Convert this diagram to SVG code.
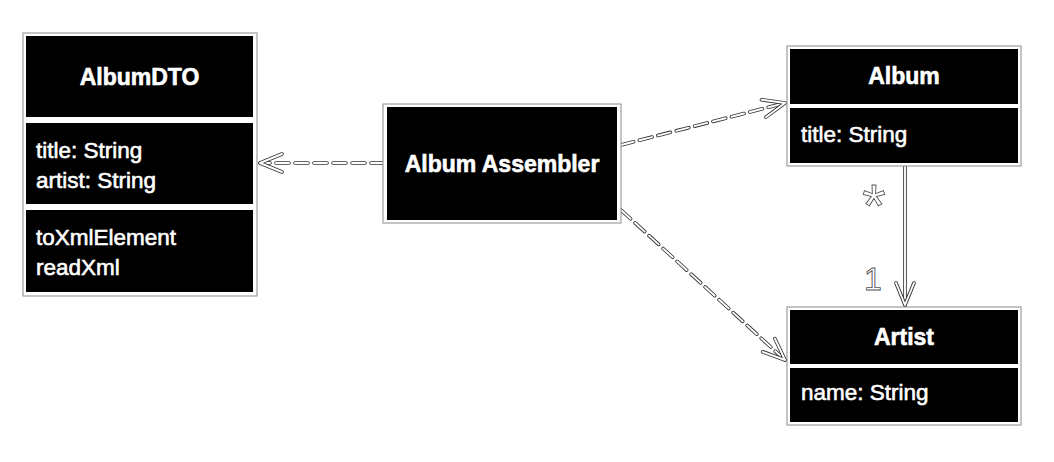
<svg xmlns="http://www.w3.org/2000/svg" width="1054" height="462" viewBox="0 0 1054 462">
<style>
.frame{fill:#fff;stroke:#8a8a8a;stroke-width:1}
.cell{fill:#000}
.hd{font-family:"Liberation Sans",Arial,sans-serif;font-weight:bold;font-size:23px;fill:#fff;stroke:#fff;stroke-width:0.6;text-anchor:middle}
.at{font-family:"Liberation Sans",Arial,sans-serif;font-size:22.5px;fill:#fff;stroke:#fff;stroke-width:0.6}
.dk{fill:none;stroke:#333;stroke-width:3.6;stroke-linecap:round}
.wt{fill:none;stroke:#fff;stroke-width:1.9;stroke-linecap:round}
.dash{stroke-dasharray:13 6}
.lbl{font-family:"Liberation Sans",Arial,sans-serif;fill:#fff;stroke:#555;stroke-width:0.9;text-anchor:middle}
</style>
<defs>
<marker id="arr" markerUnits="userSpaceOnUse" markerWidth="40" markerHeight="40" viewBox="-30 -20 40 40" refX="0" refY="0" orient="auto" overflow="visible">
<path d="M-22,-9 L0,0 L-22,9" fill="none" stroke="#333" stroke-width="3.6" stroke-linecap="round" stroke-linejoin="round"/>
<path d="M-22,-9 L0,0 L-22,9" fill="none" stroke="#fff" stroke-width="1.9" stroke-linecap="round" stroke-linejoin="round"/>
</marker>
</defs>
<rect width="1054" height="462" fill="#fff"/>
<g id="connectors">
<path class="dk dash" d="M384,163 L260,163"/>
<path class="wt dash" d="M384,163 L260,163" marker-end="url(#arr)"/>
<path class="dk dash" d="M621,145 L785,103"/>
<path class="wt dash" d="M621,145 L785,103" marker-end="url(#arr)"/>
<path class="dk dash" d="M621,210 L785,360"/>
<path class="wt dash" d="M621,210 L785,360" marker-end="url(#arr)"/>
<path class="dk" d="M905,167 L905,305"/>
<path class="wt" d="M905,167 L905,305" marker-end="url(#arr)"/>
<text class="lbl" x="874" y="226" font-size="60">*</text>
<text class="lbl" x="873" y="290" font-size="32">1</text>
</g>
<g id="AlbumDTO">
<rect class="frame" x="23" y="33" width="234" height="263"/>
<rect class="cell" x="26" y="36" width="227" height="81"/>
<rect class="cell" x="26" y="123" width="227" height="81"/>
<rect class="cell" x="26" y="210" width="227" height="82"/>
<text class="hd" x="139.5" y="85">AlbumDTO</text>
<text class="at" x="36" y="158">title: String</text>
<text class="at" x="36" y="188">artist: String</text>
<text class="at" x="36" y="245">toXmlElement</text>
<text class="at" x="36" y="275">readXml</text>
</g>
<g id="AlbumAssembler">
<rect class="frame" x="383" y="104" width="238" height="119"/>
<rect class="cell" x="387" y="107" width="230" height="113"/>
<text class="hd" x="502" y="172">Album Assembler</text>
</g>
<g id="Album">
<rect class="frame" x="787" y="46" width="234" height="120"/>
<rect class="cell" x="790" y="49" width="228" height="55"/>
<rect class="cell" x="790" y="108" width="228" height="55"/>
<text class="hd" x="904" y="84">Album</text>
<text class="at" x="801" y="142">title: String</text>
</g>
<g id="Artist">
<rect class="frame" x="787" y="307" width="234" height="118"/>
<rect class="cell" x="790" y="310" width="228" height="54"/>
<rect class="cell" x="790" y="368" width="228" height="54"/>
<text class="hd" x="904" y="345">Artist</text>
<text class="at" x="801" y="400">name: String</text>
</g>
</svg>
